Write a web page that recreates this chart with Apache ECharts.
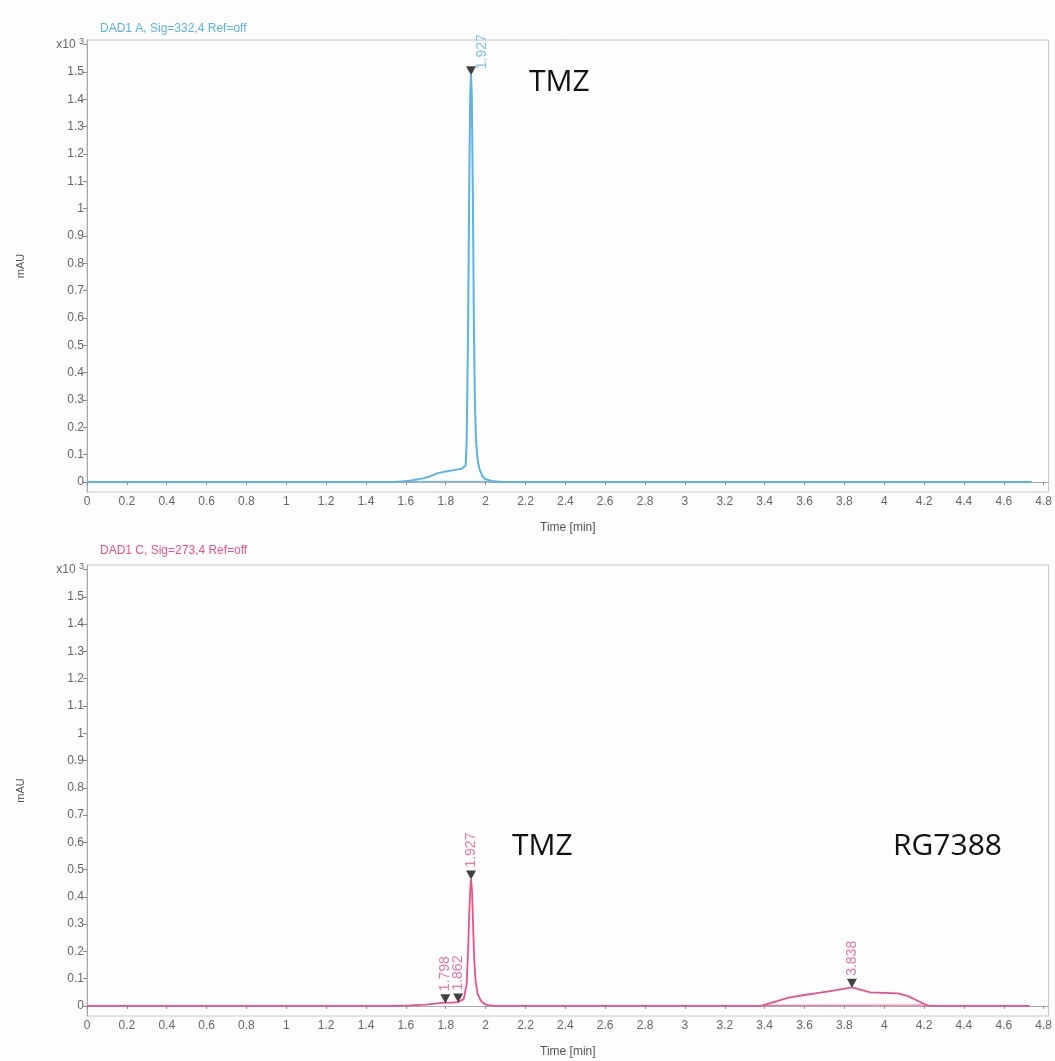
<!DOCTYPE html>
<html>
<head>
<meta charset="utf-8">
<script src="https://cdn.jsdelivr.net/npm/echarts@6/dist/echarts.min.js"></script>
<style>
html,body{margin:0;padding:0;background:#fdfdfd;}
#chart{width:1055px;height:1061px;}
</style>
</head>
<body>
<div id="chart"></div>
<script>
// ---- data ----
var xTicks = [0,0.2,0.4,0.6,0.8,1,1.2,1.4,1.6,1.8,2,2.2,2.4,2.6,2.8,3,3.2,3.4,3.6,3.8,4,4.2,4.4,4.6,4.8];
var yTicks = [0,0.1,0.2,0.3,0.4,0.5,0.6,0.7,0.8,0.9,1,1.1,1.2,1.3,1.4,1.5,1.6];

// DAD1 A, Sig=332,4 (x10^3 mAU)
var topTime = [0, 1.55, 1.62, 1.68, 1.72, 1.76, 1.80, 1.84, 1.88, 1.90, 1.905, 1.912, 1.918, 1.923, 1.927, 1.931, 1.936, 1.941, 1.946, 1.952, 1.96, 1.97, 1.985, 2.0, 2.03, 2.08, 4.74];
var topVal  = [0, 0, 0.004, 0.012, 0.02, 0.032, 0.038, 0.043, 0.048, 0.06, 0.15, 0.55, 1.1, 1.42, 1.49, 1.4, 1.05, 0.6, 0.3, 0.15, 0.08, 0.045, 0.02, 0.01, 0.003, 0, 0];
var topBaseT = [1.6, 2.06];
var topBaseV = [0.002, 0.002];
var topPeakT = [1.927];
var topPeakV = [1.49];
var topPeakLabel = ['1.927'];

// DAD1 C, Sig=273,4 (x10^3 mAU)
var botTime = [0, 1.55, 1.62, 1.7, 1.76, 1.798, 1.83, 1.862, 1.89, 1.905, 1.912, 1.918, 1.923, 1.927, 1.932, 1.937, 1.943, 1.95, 1.96, 1.975, 1.99, 2.01, 2.05, 3.38, 3.45, 3.52, 3.6, 3.68, 3.76, 3.838, 3.88, 3.93, 4.0, 4.07, 4.12, 4.17, 4.215, 4.25, 4.73];
var botVal  = [0, 0, 0.002, 0.005, 0.009, 0.012, 0.012, 0.014, 0.025, 0.08, 0.2, 0.34, 0.43, 0.465, 0.42, 0.3, 0.17, 0.09, 0.045, 0.02, 0.009, 0.003, 0, 0, 0.015, 0.03, 0.04, 0.049, 0.058, 0.068, 0.06, 0.05, 0.048, 0.046, 0.036, 0.018, 0.002, 0, 0];
var botBaseT = [3.40, 4.22];
var botBaseV = [0.002, 0.003];
var botPeakT = [1.798, 1.862, 1.927, 3.838];
var botPeakV = [0.012, 0.014, 0.465, 0.068];
var botPeakLabel = ['1.798', '1.862', '1.927', '3.838'];

var titleTop = 'DAD1 A, Sig=332,4 Ref=off';
var titleBot = 'DAD1 C, Sig=273,4 Ref=off';
var xName = 'Time [min]';
var yName = 'mAU';

var blue = '#5cb3e6';
var pink = '#e8538c';
var axisGray = '#a9a9b4';
var labelGray = '#666666';
var FONT = 'Liberation Sans, Arial, sans-serif';
var ANNOT_FONT = 'Open Sans, Lato, sans-serif';

function zip(a, b) { return a.map(function (v, i) { return [v, b[i]]; }); }
function fmtX(v) { return String(+v.toFixed(1)); }
function fmtY(v) {
  if (Math.abs(v - 1.6) < 1e-6) return 'x10 {sup|3}';
  return String(+v.toFixed(1));
}

function makeX(gi) {
  return {
    type: 'value', gridIndex: gi, min: 0, max: 4.825,
    name: xName, nameLocation: 'middle', nameGap: 30,
    nameTextStyle: { color: '#555', fontSize: 12, fontFamily: FONT },
    axisLine: { show: true, lineStyle: { color: axisGray } },
    axisTick: { show: true, length: 3, lineStyle: { color: '#888' }, customValues: xTicks },
    axisLabel: { color: labelGray, fontSize: 12, fontFamily: FONT, margin: 4, customValues: xTicks, formatter: fmtX, showMaxLabel: true },
    splitLine: { show: false }
  };
}
function makeY(gi) {
  return {
    type: 'value', gridIndex: gi, min: -0.037, max: 1.617,
    name: yName, nameLocation: 'middle', nameGap: 61, nameRotate: 90,
    nameTextStyle: { color: '#555', fontSize: 11, fontFamily: FONT },
    axisLine: { show: true, lineStyle: { color: axisGray } },
    axisTick: { show: true, length: 4, lineStyle: { color: '#888' }, customValues: yTicks },
    axisLabel: {
      color: labelGray, fontSize: 12, fontFamily: FONT, margin: 3, customValues: yTicks, formatter: fmtY,
      rich: { sup: { fontSize: 9, color: labelGray, fontFamily: FONT, verticalAlign: 'top', padding: [0, 0, 6, 0] } }
    },
    splitLine: { show: false }
  };
}
// offset is in the rotated label frame: [along text (up), across text (right)]
function peakSeries(gi, t, v, labels, color, off) {
  return {
    type: 'scatter', xAxisIndex: gi, yAxisIndex: gi, z: 5,
    data: zip(t, v).map(function (d, i) { return { value: d, name: labels[i] }; }),
    symbol: 'triangle', symbolRotate: 180, symbolSize: [10, 9], symbolOffset: [0, -4],
    itemStyle: { color: '#111' },
    label: {
      show: true, position: 'top', distance: 3, rotate: 90, align: 'left', verticalAlign: 'middle',
      offset: off, color: color, fontSize: 14, fontFamily: FONT,
      formatter: function (p) { return p.name; }
    },
    silent: true
  };
}

var chart = echarts.init(document.getElementById('chart'), null, { renderer: 'canvas' });
chart.setOption({
  backgroundColor: '#fdfdfd',
  animation: false,
  title: [
    { text: titleTop, left: 95, top: 18, textStyle: { color: blue, fontSize: 12, fontWeight: 'normal', fontFamily: FONT } },
    { text: titleBot, left: 95, top: 540, textStyle: { color: pink, fontSize: 12, fontWeight: 'normal', fontFamily: FONT } }
  ],
  grid: [
    { left: 87, width: 965, top: 40, height: 452, show: true, borderColor: '#c4c4cc', borderWidth: 1, backgroundColor: 'transparent' },
    { left: 87, width: 965, top: 565, height: 451, show: true, borderColor: '#c4c4cc', borderWidth: 1, backgroundColor: 'transparent' }
  ],
  xAxis: [makeX(0), makeX(1)],
  yAxis: [makeY(0), makeY(1)],
  graphic: [
    { type: 'text', left: 529, top: 67, style: { text: 'TMZ', fontSize: 30, fontFamily: ANNOT_FONT, fill: '#111' } },
    { type: 'text', left: 512, top: 831, style: { text: 'TMZ', fontSize: 30, fontFamily: ANNOT_FONT, fill: '#111' } },
    { type: 'text', left: 893, top: 831, style: { text: 'RG7388', fontSize: 30, fontFamily: ANNOT_FONT, fill: '#111' } }
  ],
  series: [
    { type: 'line', xAxisIndex: 0, yAxisIndex: 0, data: zip(topBaseT, topBaseV), showSymbol: false, lineStyle: { color: blue, width: 1 }, silent: true },
    { type: 'line', xAxisIndex: 0, yAxisIndex: 0, data: zip(topTime, topVal), showSymbol: false, lineStyle: { color: blue, width: 2 }, silent: true },
    peakSeries(0, topPeakT, topPeakV, topPeakLabel, blue, [-6, 11]),
    { type: 'line', xAxisIndex: 1, yAxisIndex: 1, data: zip(botBaseT, botBaseV), showSymbol: false, lineStyle: { color: pink, width: 1 }, silent: true },
    { type: 'line', xAxisIndex: 1, yAxisIndex: 1, data: zip(botTime, botVal), showSymbol: false, lineStyle: { color: pink, width: 1.8 }, silent: true },
    peakSeries(1, botPeakT, botPeakV, botPeakLabel, pink, [0, 0])
  ]
});
</script>
</body>
</html>
